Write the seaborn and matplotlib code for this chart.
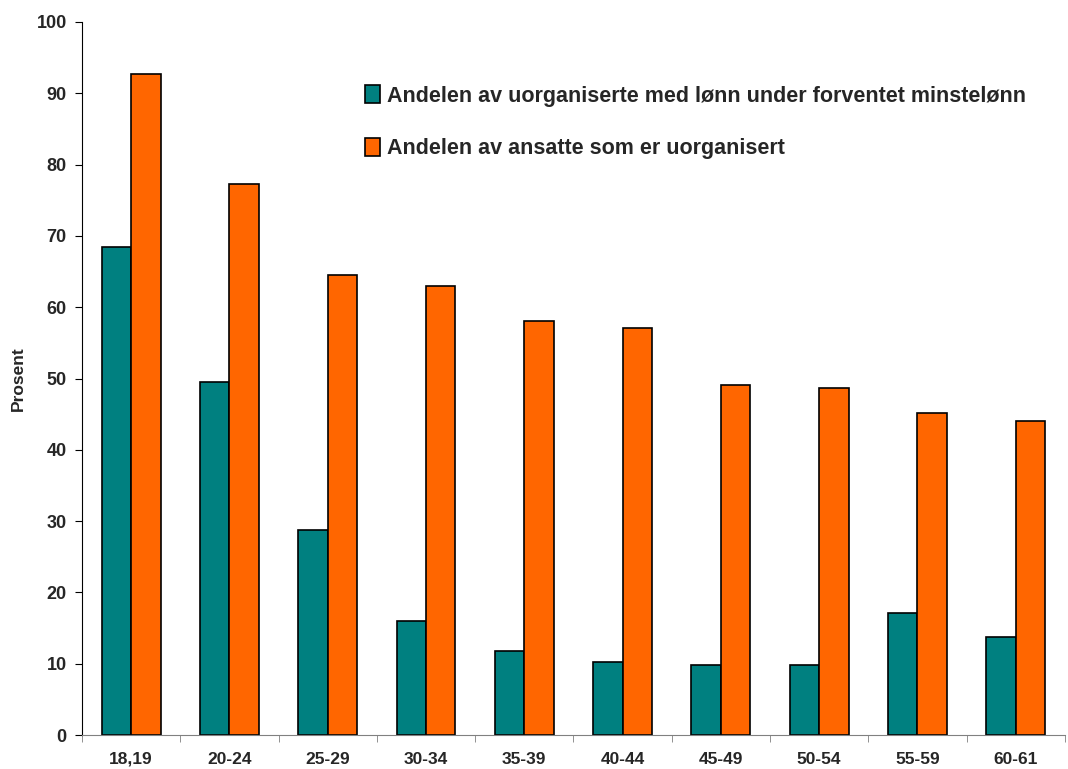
import numpy as np
import pandas as pd
import seaborn as sns
import matplotlib.pyplot as plt
from matplotlib.ticker import FixedLocator

# Age groups and the two shares (percent)
age_groups = ['18,19', '20-24', '25-29', '30-34', '35-39', '40-44', '45-49', '50-54', '55-59', '60-61']
under_minstelonn = [68.4, 49.5, 28.8, 16.0, 11.8, 10.2, 9.8, 9.8, 17.1, 13.7]
uorganisert = [92.7, 77.3, 64.5, 63.0, 58.1, 57.1, 49.1, 48.7, 45.2, 44.0]

series_names = ['Andelen av uorganiserte med lønn under forventet minstelønn',
                'Andelen av ansatte som er uorganisert']
series_colors = ['#008080', '#FF6600']

df = pd.DataFrame({
    'alder': age_groups * 2,
    'prosent': under_minstelonn + uorganisert,
    'serie': [series_names[0]] * len(age_groups) + [series_names[1]] * len(age_groups),
})

sns.set_style('white')
plt.rcParams['font.family'] = ['Liberation Sans', 'DejaVu Sans']
plt.rcParams['font.weight'] = 'bold'

fig = plt.figure(figsize=(10.68, 7.69), dpi=100)
ax = fig.add_axes([0.0768, 0.0442, 0.9202, 0.9272])

sns.barplot(data=df, x='alder', y='prosent', hue='serie', palette=series_colors,
            saturation=1, width=0.6, edgecolor='black', linewidth=1.2, ax=ax, legend=True)

ax.set_ylim(0, 100)
ax.set_yticks(np.arange(0, 101, 10))
ax.set_xlim(-0.5, len(age_groups) - 0.5)
ax.set_xlabel('')
ax.set_ylabel('Prosent', fontsize=12.5, fontweight='bold')
ax.yaxis.set_label_coords(-0.057, 0.5)

for lab in ax.get_yticklabels():
    lab.set_fontweight('bold')
    lab.set_fontsize(13)
for lab in ax.get_xticklabels():
    lab.set_fontweight('bold')
    lab.set_fontsize(12.5)

# x axis: ticks between categories
ax.tick_params(axis='x', which='major', length=0, pad=12)
ax.xaxis.set_minor_locator(FixedLocator(np.arange(-0.5, len(age_groups), 1.0)))
ax.tick_params(axis='x', which='minor', length=5, color='#808080', direction='out', bottom=True)
ax.tick_params(axis='y', length=5, direction='out', left=True, color='black', pad=6)

for side in ['top', 'right']:
    ax.spines[side].set_visible(False)
ax.spines['bottom'].set_color('#808080')
ax.spines['left'].set_color('black')

handles, labels = ax.get_legend_handles_labels()
ax.legend(handles, labels, loc='upper left', bbox_to_anchor=(346 / 1068, 1 - 66 / 769),
          bbox_transform=fig.transFigure, frameon=False,
          handlelength=0.7, handleheight=0.9, handletextpad=0.3, labelspacing=1.45,
          prop={'weight': 'bold', 'size': 15.5})

fig.savefig('out.png', dpi=100)
